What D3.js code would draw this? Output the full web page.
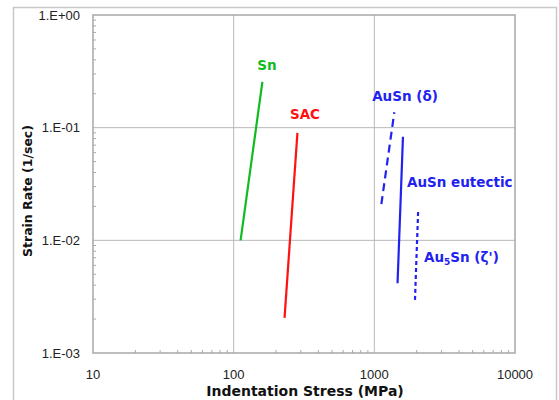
<!DOCTYPE html>
<html>
<head>
<meta charset="utf-8">
<script src="https://cdn.jsdelivr.net/npm/d3@7"></script>
<style>
  body { margin: 0; background: #fff; }
  svg { font-family: "Liberation Sans", Arial, sans-serif; }
  .bold { font-family: "DejaVu Sans", Verdana, sans-serif; font-weight: bold; }
</style>
</head>
<body>
<svg id="vis" width="559" height="400"></svg>
<script>
const width = 559;
const height = 400;
const marginLeft = 93;
const marginTop = 15;
const plotRight = 515;
const plotBottom = 353;

// data
const xTicks = [10, 100, 1000, 10000];
const yTicks = [1, 0.1, 0.01, 0.001];
const yTickLabels = ["1.E+00", "1.E-01", "1.E-02", "1.E-03"];

const snLine = [{ x: 112, y: 0.01 }, { x: 160, y: 0.255 }];
const sacLine = [{ x: 230, y: 0.00205 }, { x: 284, y: 0.09 }];
const ausnDeltaLine = [{ x: 1122, y: 0.021 }, { x: 1387, y: 0.137 }];
const ausnEutecticLine = [{ x: 1462, y: 0.00416 }, { x: 1598, y: 0.083 }];
const au5snLine = [{ x: 1945, y: 0.00296 }, { x: 2051, y: 0.019 }];

const series = [
  { name: "Sn", points: snLine, color: "#11bb22", dash: null },
  { name: "SAC", points: sacLine, color: "#ff1111", dash: null },
  { name: "AuSn (δ)", points: ausnDeltaLine, color: "#2222f0", dash: "8,5" },
  { name: "AuSn eutectic", points: ausnEutecticLine, color: "#2222f0", dash: null },
  { name: "Au5Sn", points: au5snLine, color: "#2222f0", dash: "4,3" },
];

const svg = d3.select("#vis");

const x = d3.scaleLog().domain([10, 10000]).range([marginLeft, plotRight]);
const y = d3.scaleLog().domain([0.001, 1]).range([plotBottom, marginTop]);

// outer chart frame
svg.append("rect")
  .attr("x", 13.5).attr("y", 7.5)
  .attr("width", 543).attr("height", 420)
  .attr("fill", "none")
  .attr("stroke", "#c8c8c8")
  .attr("stroke-width", 1.5);

// gridlines
svg.append("g")
  .selectAll("line")
  .data(xTicks.slice(1, -1))
  .join("line")
  .attr("x1", d => x(d)).attr("x2", d => x(d))
  .attr("y1", marginTop).attr("y2", plotBottom)
  .attr("stroke", "#b8b8b8");

svg.append("g")
  .selectAll("line")
  .data(yTicks.slice(1, -1))
  .join("line")
  .attr("x1", marginLeft).attr("x2", plotRight)
  .attr("y1", d => y(d)).attr("y2", d => y(d))
  .attr("stroke", "#b8b8b8");

// plot border
svg.append("rect")
  .attr("x", marginLeft).attr("y", marginTop)
  .attr("width", plotRight - marginLeft)
  .attr("height", plotBottom - marginTop)
  .attr("fill", "none")
  .attr("stroke", "#a8a8a8")
  .attr("stroke-width", 1.5);

// minor ticks pointing inward
const minorX = x.ticks().filter(d => !xTicks.includes(d));
const minorY = y.ticks().filter(d => !yTicks.includes(d));

svg.append("g")
  .selectAll("line")
  .data(minorX)
  .join("line")
  .attr("x1", d => x(d)).attr("x2", d => x(d))
  .attr("y1", plotBottom).attr("y2", plotBottom - 3)
  .attr("stroke", "#aaa");

svg.append("g")
  .selectAll("line")
  .data(minorY)
  .join("line")
  .attr("x1", marginLeft).attr("x2", marginLeft + 3)
  .attr("y1", d => y(d)).attr("y2", d => y(d))
  .attr("stroke", "#aaa");

// tick labels
svg.append("g")
  .selectAll("text")
  .data(xTicks)
  .join("text")
  .attr("x", d => x(d))
  .attr("y", 379)
  .attr("text-anchor", "middle")
  .attr("font-size", 13)
  .attr("fill", "#222")
  .text(d => d);

svg.append("g")
  .selectAll("text")
  .data(yTicks)
  .join("text")
  .attr("x", 80)
  .attr("y", d => y(d) + 4.5)
  .attr("text-anchor", "end")
  .attr("font-size", 13)
  .attr("fill", "#222")
  .text((d, i) => yTickLabels[i]);

// axis titles
svg.append("text")
  .attr("class", "bold")
  .attr("x", 305)
  .attr("y", 396)
  .attr("text-anchor", "middle")
  .attr("font-size", 14)
  .attr("fill", "#111")
  .text("Indentation Stress (MPa)");

svg.append("text")
  .attr("class", "bold")
  .attr("transform", "translate(32, 191) rotate(-90)")
  .attr("text-anchor", "middle")
  .attr("font-size", 12.5)
  .attr("fill", "#111")
  .text("Strain Rate (1/sec)");

// data lines
const drawLines = d3.line().x(d => x(d.x)).y(d => y(d.y));

svg.append("g")
  .selectAll("path")
  .data(series)
  .join("path")
  .attr("d", d => drawLines(d.points))
  .attr("fill", "none")
  .attr("stroke", d => d.color)
  .attr("stroke-width", 2.2)
  .attr("stroke-dasharray", d => d.dash);

// series labels
const labels = [
  { text: "Sn", x: 267, y: 70, anchor: "middle", color: "#11bb22" },
  { text: "SAC", x: 305, y: 119, anchor: "middle", color: "#ff1111" },
  { text: "AuSn (δ)", x: 405, y: 101, anchor: "middle", color: "#2222f0" },
  { text: "AuSn eutectic", x: 407, y: 187, anchor: "start", color: "#2222f0" },
];

svg.append("g")
  .selectAll("text")
  .data(labels)
  .join("text")
  .attr("class", "bold")
  .attr("x", d => d.x)
  .attr("y", d => d.y)
  .attr("text-anchor", d => d.anchor)
  .attr("font-size", 13.5)
  .attr("fill", d => d.color)
  .text(d => d.text);

const au5 = svg.append("text")
  .attr("class", "bold")
  .attr("x", 424)
  .attr("y", 262)
  .attr("font-size", 13.5)
  .attr("fill", "#2222f0");
au5.append("tspan").text("Au");
au5.append("tspan").attr("font-size", 9).attr("dy", 3).text("5");
au5.append("tspan").attr("dy", -3).text("Sn (ζ')");
</script>
</body>
</html>
